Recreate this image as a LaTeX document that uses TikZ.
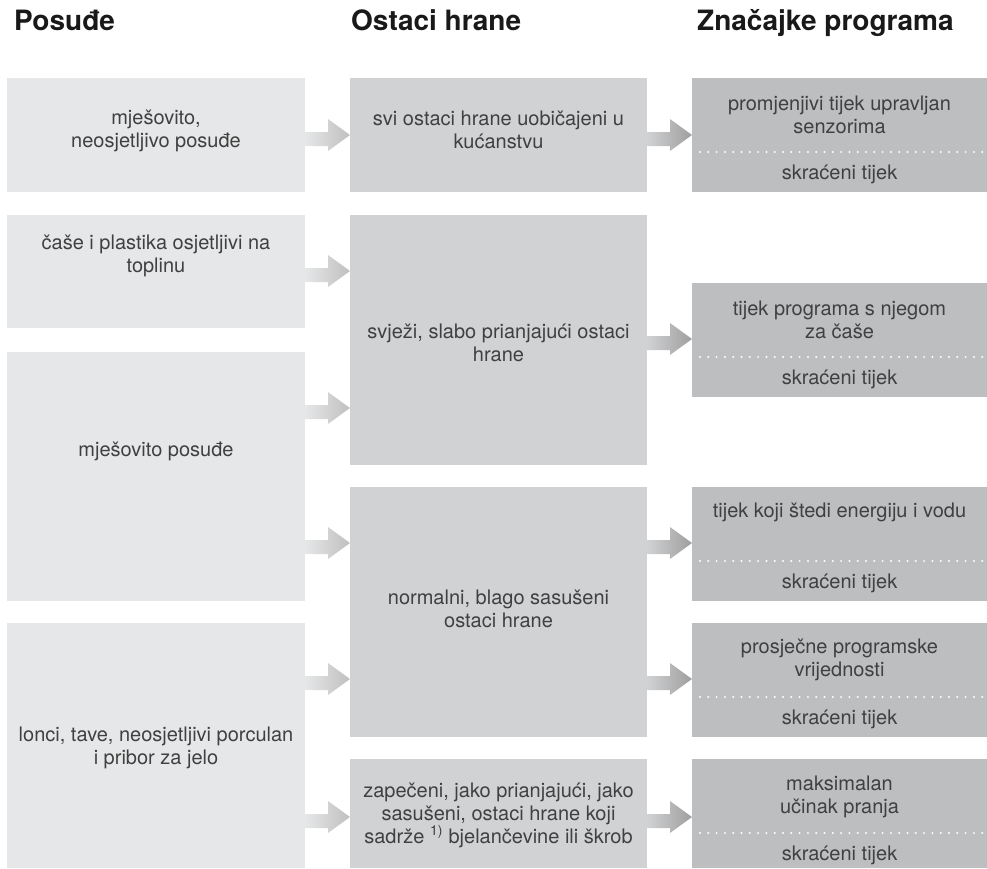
\documentclass[tikz,border=0pt]{standalone}
\usepackage{fontspec}
\setmainfont{TeX Gyre Heros}
\usetikzlibrary{calc}
\definecolor{siva1}{HTML}{E6E7E8}
\definecolor{siva2}{HTML}{D1D2D4}
\definecolor{siva3}{HTML}{BCBEC0}
\definecolor{tekstboja}{HTML}{404040}
\tikzset{
  kutija/.style={rectangle, inner sep=0pt, outer sep=0pt},
  posude/.style={kutija, fill=siva1, minimum width=298pt},
  ostaci/.style={kutija, fill=siva2, minimum width=297pt},
  program/.style={kutija, fill=siva3, minimum width=295pt},
  opis/.style={inner sep=0pt, align=center, text=tekstboja, font=\fontsize{20}{23}\selectfont},
  naslov/.style={anchor=base west, inner sep=0pt, text=black!90, font=\bfseries\fontsize{28}{32}\selectfont},
  tockice/.style={white, line width=2.2pt, line cap=round, dash pattern=on 0pt off 8.3pt},
  strelica1/.style={left color=siva1, right color=black!25},
  strelica2/.style={left color=siva2, right color=black!38},
}
% strelica: od kutije #1 do kutije #2 na visini #3
\newcommand{\strelica}[4]{%
  \shade[#4] ($(#1.east |- 0,#3)+(0,-3)$) -- ($(#2.west |- 0,#3)+(-22,-3)$) -- ++(0,-13)
    -- (#2.west |- 0,#3) -- ++(-22,16) -- ++(0,-5) -- ($(#1.east |- 0,#3)+(0,11)$) -- cycle;
}

\begin{document}
\begin{tikzpicture}[x=1pt, y=-1pt]
  \useasboundingbox (0,0) rectangle (987,868);

  % ---------------- naslovi ----------------
  \node[naslov] (h1) at (14,30) {Posuđe};
  \node[naslov] (h2) at (351,30) {Ostaci hrane};
  \node[naslov] (h3) at (697,30) {Značajke programa};

  % ---------------- posuđe ----------------
  \node[posude, minimum height=114pt] (posA) at (156,135) {};
  \node[posude, minimum height=113pt] (posB) at (156,271.5) {};
  \node[posude, minimum height=249pt] (posC) at (156,476.5) {};
  \node[posude, minimum height=245pt] (posD) at (156,745.5) {};
  \node[opis] (tA) at (156,131) {mješovito,\\neosjetljivo posuđe};
  \node[opis] (tB) at (156,256) {čaše i plastika osjetljivi na\\toplinu};
  \node[opis] (tC) at (156,451) {mješovito posuđe};
  \node[opis] (tD) at (156,748) {lonci, tave, neosjetljivi porculan\\i pribor za jelo};

  % ---------------- ostaci hrane ----------------
  \node[ostaci, minimum height=114pt] (ost1) at (498.5,135) {};
  \node[ostaci, minimum height=250pt] (ost2) at (498.5,340) {};
  \node[ostaci, minimum height=250pt] (ost3) at (498.5,612) {};
  \node[ostaci, minimum height=109pt] (ost4) at (498.5,813.5) {};
  \node[opis] (t1) at (498.5,130) {svi ostaci hrane uobičajeni u\\kućanstvu};
  \node[opis] (t2) at (498.5,343) {svježi, slabo prianjajući ostaci\\hrane};
  \node[opis] (t3) at (498.5,609) {normalni, blago sasušeni\\ostaci hrane};
  \node[opis] (t4) at (498.5,815) {zapečeni, jako prianjajući, jako\\sasušeni, ostaci hrane koji\\sadrže \textsuperscript{1)} bjelančevine ili škrob};

  % ---------------- značajke programa ----------------
  \node[program, minimum height=114pt] (p1) at (839.5,135) {};
  \node[program, minimum height=114pt] (p2) at (839.5,340) {};
  \node[program, minimum height=114pt] (p3) at (839.5,544) {};
  \node[program, minimum height=114pt] (p4) at (839.5,680) {};
  \node[program, minimum height=109pt] (p5) at (839.5,813.5) {};
  \foreach \p in {p1,p2,p3,p4,p5} {
    \draw[tockice] ($(\p.north west)+(8,74)$) -- ($(\p.north east)+(-1,74)$);
    \node[opis] at ($(\p.north)+(0,96)$) {skraćeni tijek};
  }
  \node[opis] (p1t) at ($(p1.north)+(0,37)$) {promjenjivi tijek upravljan\\senzorima};
  \node[opis] (p2t) at ($(p2.north)+(0,37)$) {tijek programa s njegom\\za čaše};
  \node[opis] (p3t) at ($(p3.north)+(0,25)$) {tijek koji štedi energiju i vodu};
  \node[opis] (p4t) at ($(p4.north)+(0,37)$) {prosječne programske\\vrijednosti};
  \node[opis] (p5t) at ($(p5.north)+(0,38)$) {maksimalan\\učinak pranja};

  % ---------------- strelice ----------------
  \strelica{posA}{ost1}{135}{strelica1}
  \strelica{posB}{ost2}{271}{strelica1}
  \strelica{posC}{ost2}{408}{strelica1}
  \strelica{posC}{ost3}{543}{strelica1}
  \strelica{posD}{ost3}{679}{strelica1}
  \strelica{posD}{ost4}{817}{strelica1}
  \strelica{ost1}{p1}{135}{strelica2}
  \strelica{ost2}{p2}{339}{strelica2}
  \strelica{ost3}{p3}{543}{strelica2}
  \strelica{ost3}{p4}{679}{strelica2}
  \strelica{ost4}{p5}{817}{strelica2}
\end{tikzpicture}
\end{document}
